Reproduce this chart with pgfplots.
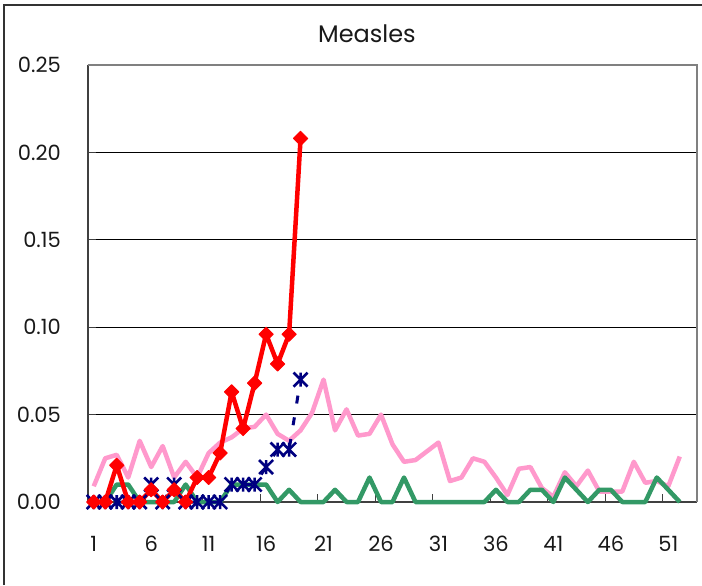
\documentclass[border=0pt]{standalone}
\usepackage{fontspec}
\setmainfont{Poppins}
\usepackage{pgfplots}
\pgfplotsset{compat=1.18}
\usepackage{pgfplotstable}

\definecolor{msred}{RGB}{255,0,0}
\definecolor{mspink}{RGB}{255,153,204}
\definecolor{msgreen}{RGB}{51,153,102}
\definecolor{msnavy}{RGB}{0,0,128}

% X with a vertical bar, like the spreadsheet star marker
\pgfdeclareplotmark{xstar}{%
  \pgfpathmoveto{\pgfqpoint{-\pgfplotmarksize}{-\pgfplotmarksize}}%
  \pgfpathlineto{\pgfqpoint{\pgfplotmarksize}{\pgfplotmarksize}}%
  \pgfpathmoveto{\pgfqpoint{-\pgfplotmarksize}{\pgfplotmarksize}}%
  \pgfpathlineto{\pgfqpoint{\pgfplotmarksize}{-\pgfplotmarksize}}%
  \pgfpathmoveto{\pgfqpoint{0pt}{-\pgfplotmarksize}}%
  \pgfpathlineto{\pgfqpoint{0pt}{\pgfplotmarksize}}%
  \pgfusepathqstroke}

\pgfplotstableread{
week pink green
1  0.009 0
2  0.025 0
3  0.027 0.010
4  0.014 0.010
5  0.035 0
6  0.020 0
7  0.032 0
8  0.014 0
9  0.023 0.010
10 0.014 0
11 0.028 0
12 0.034 0
13 0.037 0.010
14 0.042 0.010
15 0.043 0.010
16 0.050 0.010
17 0.039 0
18 0.035 0.007
19 0.041 0
20 0.051 0
21 0.070 0
22 0.041 0.007
23 0.053 0
24 0.038 0
25 0.039 0.014
26 0.050 0
27 0.033 0
28 0.023 0.014
29 0.024 0
30 0.029 0
31 0.034 0
32 0.012 0
33 0.014 0
34 0.025 0
35 0.023 0
36 0.014 0.007
37 0.004 0
38 0.019 0
39 0.020 0.007
40 0.008 0.007
41 0.003 0
42 0.017 0.014
43 0.009 0.007
44 0.018 0
45 0.006 0.007
46 0.006 0.007
47 0.006 0
48 0.023 0
49 0.011 0
50 0.012 0.014
51 0.009 0.007
52 0.026 0
}\allweeks

\pgfplotstableread{
week red blue
1  0     0
2  0     0
3  0.021 0
4  0     0
5  0     0
6  0.007 0.010
7  0     0
8  0.007 0.010
9  0     0
10 0.014 0
11 0.014 0
12 0.028 0
13 0.063 0.010
14 0.042 0.010
15 0.068 0.010
16 0.096 0.020
17 0.079 0.030
18 0.096 0.030
19 0.208 0.070
}\early

\begin{document}
\begin{tikzpicture}
\begin{axis}[name=ax,
  scale only axis, width=609pt, height=437pt,
  xmin=0.5, xmax=53.5, ymin=0, ymax=0.25,
  clip=false,
  axis x line*=bottom, axis y line*=left,
  axis line style={draw=black!75, line width=1.6pt},
  tick align=inside, major tick length=8pt,
  tick style={draw=black!75, line width=1pt},
  xtick={0.5,5.5,...,50.5},
  xticklabels={1,6,11,16,21,26,31,36,41,46,51},
  ytick={0,0.05,0.10,0.15,0.20,0.25},
  ymajorgrids,
  major grid style={draw=black, line width=1pt},
  /pgf/number format/assume math mode=true,
  yticklabel style={/pgf/number format/fixed,
    /pgf/number format/fixed zerofill,
    /pgf/number format/precision=2},
  tick label style={font=\fontsize{21}{25}\selectfont, inner sep=0pt, text=black!90},
  yticklabel style={anchor=east, xshift=-27pt},
  xticklabel style={anchor=north, yshift=-34pt, xshift=5.745pt},
  title={Measles},
  title style={at={(axis description cs:0.458,1)}, anchor=base, yshift=16pt,
    inner sep=0pt, font=\fontsize{24}{28}\selectfont, text=black!90},
]
\draw[black!50, line width=1.5pt] (rel axis cs:0,1) -- (rel axis cs:1,1) -- (rel axis cs:1,0);
\addplot[mspink, line width=4.5pt, line join=round] table[x=week, y=pink]{\allweeks};
\addplot[msgreen, line width=4.5pt, line join=round] table[x=week, y=green]{\allweeks};
\addplot[msnavy, line width=3pt, dash pattern=on 8pt off 14pt,
  mark=xstar, mark size=7pt, mark options={solid, line width=2.6pt}]
  table[x=week, y=blue]{\early};
\addplot[msred, line width=4.5pt, line join=round,
  mark=square*, mark size=5pt, mark options={rotate=45, fill=msred, draw=msred, line width=1pt}]
  table[x=week, y=red]{\early};
\end{axis}
\draw[black!80, line width=1.2pt]
  ([xshift=-84pt,yshift=-83pt]ax.south west) --
  ([xshift=-84pt,yshift=60pt]ax.north west) --
  ([xshift=5pt,yshift=60pt]ax.north east);
\pgfresetboundingbox
\path ([xshift=-88pt,yshift=-83pt]ax.south west) rectangle ([xshift=5pt,yshift=65pt]ax.north east);
\end{tikzpicture}
\end{document}
